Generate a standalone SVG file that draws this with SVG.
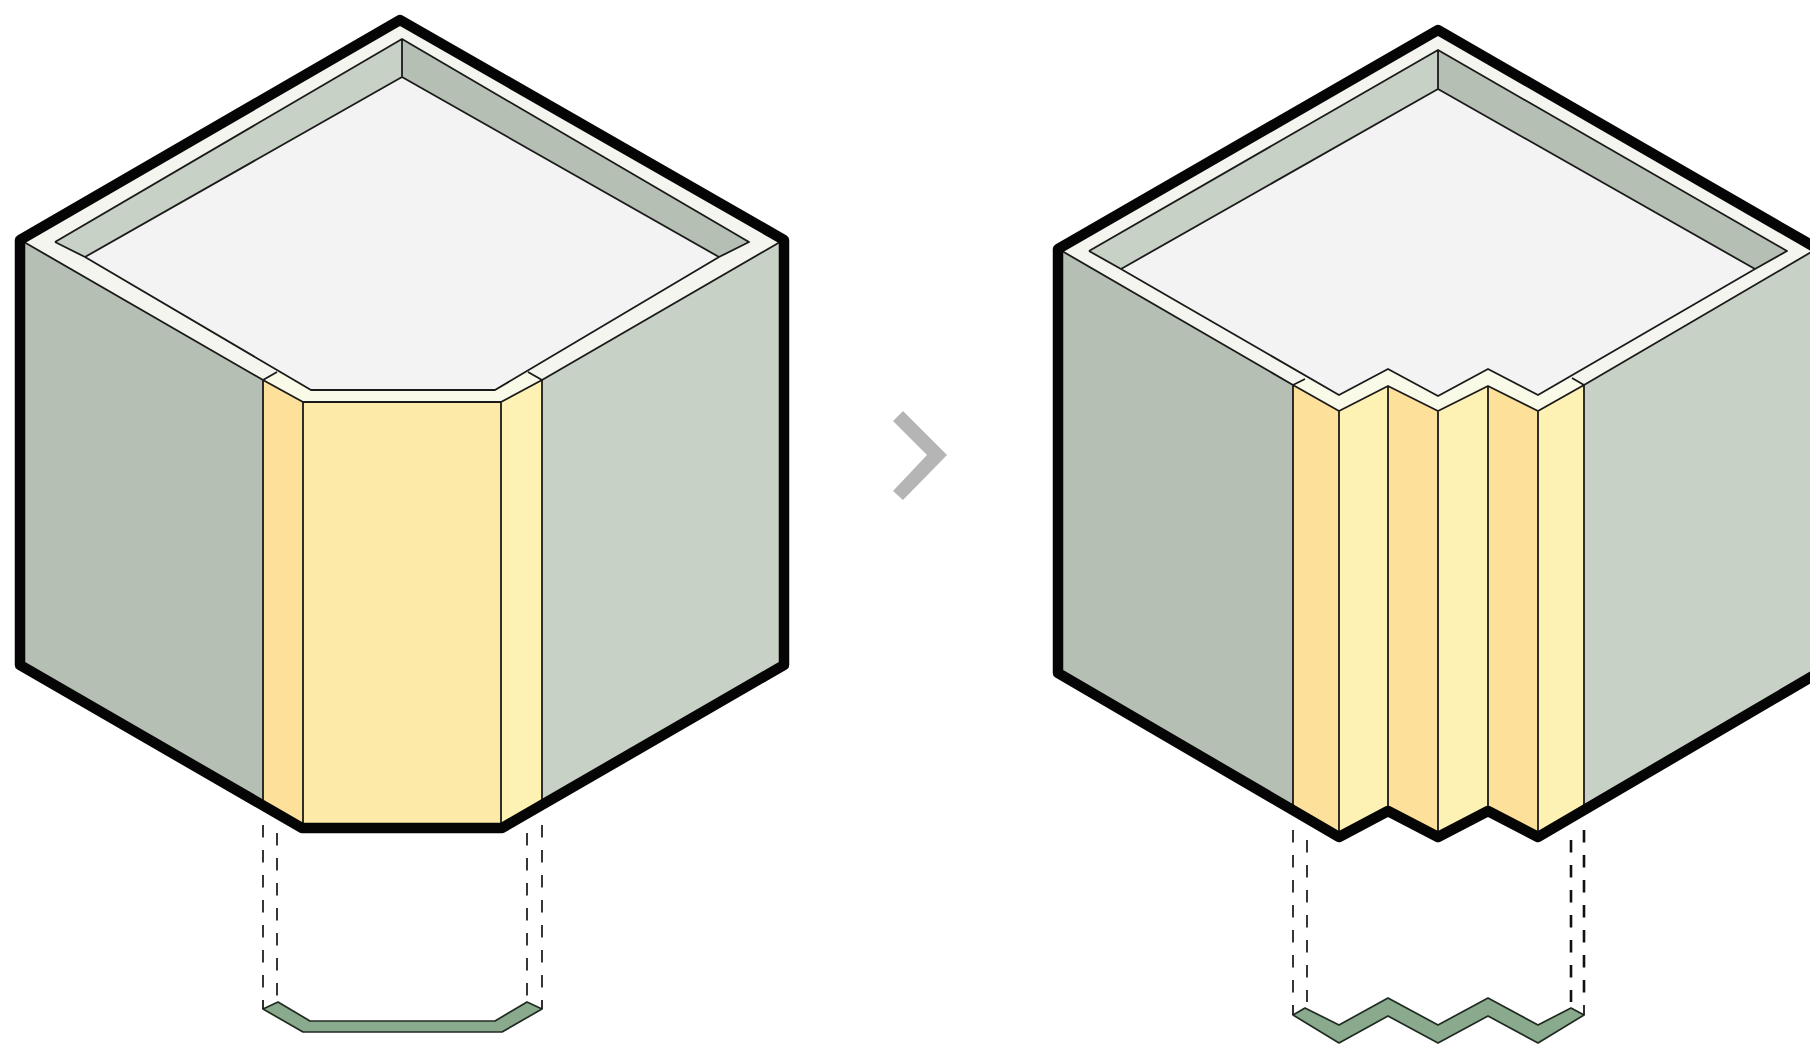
<svg xmlns="http://www.w3.org/2000/svg" width="1810" height="1045" viewBox="0 0 1810 1045">
<style>
.rim{fill:#f4f5ef}.rimy{fill:#fafae8}.floor{fill:#f3f3f3}.wl{fill:#b6bfb3}.wr{fill:#c8d1c6}
.ya{fill:#fde09a}.yb{fill:#feeaa8}.yc{fill:#fdf1b4}.gr{fill:#8aaa8e;stroke:#1f2a20;stroke-width:1.7;stroke-linejoin:round}
.t{fill:none;stroke:#1a1a1a;stroke-width:1.8;stroke-linejoin:round}
.o{fill:none;stroke:#050505;stroke-width:10.5;stroke-linejoin:round;stroke-linecap:round}
.d{fill:none;stroke:#222;stroke-width:1.8;stroke-dasharray:12.5 12.5}
.d2{fill:none;stroke:#111;stroke-width:2.6;stroke-dasharray:12.5 12.5}
</style>
<rect width="1810" height="1045" fill="#fff"/>
<g id="module-flat">
<polygon class="rim" points="20,240 400,20 784,240 784,665 502,828 302,828 20,665"/>
<polygon class="wl" points="24,242 263,380 263,800 20,665"/>
<polygon class="wr" points="780,242 542,380 542,800 784,665"/>
<polygon class="wr" points="55,242 402,39 402,77 85,257"/>
<polygon class="wl" points="402,39 749,242 719,257 402,77"/>
<polygon class="floor" points="85,257 402,77 719,257 495,390 311,390"/>
<polygon class="rimy" points="277,372 311,390 495,390 528,372 542,380 501,402 303,402 263,380"/>
<polygon class="ya" points="263,380 303,402 303,828 263,805"/>
<polygon class="yb" points="303,402 501,402 501,828 303,828"/>
<polygon class="yc" points="501,402 542,380 542,805 501,828"/>
<path class="t" d="M24,242L263,380L303,402H501L542,380L780,242M263,380L277,372M542,380L528,372M55,242L402,39L749,242L719,257L495,390H311L85,257L55,242M85,257L402,77L719,257M402,39V77M263,380V802M303,402V828M501,402V828M542,380V802"/>
<path class="o" d="M20,240L400,20L784,240V665L502,828H302L20,665Z"/>
<path class="d" d="M263,825V1000M542,825V1000"/>
<path class="d" d="M277,833V1000M527,833V1000"/>
<polygon class="gr" points="263,1009 278,1002 310,1021 495,1021 527,1002 542,1009 502,1032 303,1032"/>
<path class="t" d="M263,1000V1009M542,1000V1009"/>
</g>
<g id="chevron"><polygon fill="#b5b5b5" points="903,411 893,421 927,455 893,491 903,500 947,455"/></g>
<g id="module-folded">
<polygon class="rim" points="1058,249 1438,30 1818,249 1818,673 1538,836 1488,811 1438,836 1388,811 1339,836 1058,673"/>
<polygon class="wl" points="1062,251 1293,385 1293,805 1058,673"/>
<polygon class="wr" points="1813,251 1584,385 1584,805 1818,673"/>
<polygon class="wr" points="1089,251 1438,50 1438,89 1121,269"/>
<polygon class="wl" points="1438,50 1787,251 1755,269 1438,89"/>
<polygon class="floor" points="1121,269 1438,89 1755,269 1538,395 1488,369 1438,396 1388,369 1339,395"/>
<polygon class="rimy" points="1305,379 1339,395 1388,369 1438,396 1488,369 1538,395 1572,378 1584,385 1538,411 1488,386 1438,411 1388,386 1339,411 1293,385"/>
<polygon class="ya" points="1293,385 1339,411 1339,836 1293,808"/>
<polygon class="yc" points="1339,411 1388,386 1388,811 1339,836"/>
<polygon class="ya" points="1388,386 1438,411 1438,836 1388,811"/>
<polygon class="yc" points="1438,411 1488,386 1488,811 1438,836"/>
<polygon class="ya" points="1488,386 1538,411 1538,836 1488,811"/>
<polygon class="yc" points="1538,411 1584,385 1584,808 1538,836"/>
<path class="t" d="M1062,251L1293,385L1339,411L1388,386L1438,411L1488,386L1538,411L1584,385L1813,251M1293,385L1305,379M1584,385L1572,378M1089,251L1438,50L1787,251L1755,269L1538,395L1488,369L1438,396L1388,369L1339,395L1121,269L1089,251M1121,269L1438,89L1755,269M1438,50V89M1293,385V806M1339,411V836M1388,386V811M1438,411V836M1488,386V811M1538,411V836M1584,385V806"/>
<path class="o" d="M1058,249L1438,30L1818,249V673L1538,837L1488,811L1438,837L1388,811L1339,837L1058,673Z"/>
<path class="d" d="M1293,830V1004M1307,840V1002"/>
<path class="d2" d="M1584,830V1004M1571,840V1002"/>
<polygon class="gr" points="1293,1015 1305,1008 1339,1025 1388,998 1438,1025 1488,998 1538,1025 1571,1008 1584,1015 1538,1043 1488,1016 1438,1043 1388,1016 1339,1043"/>
<path class="t" d="M1293,1005V1015M1584,1005V1015"/>
</g>
</svg>
